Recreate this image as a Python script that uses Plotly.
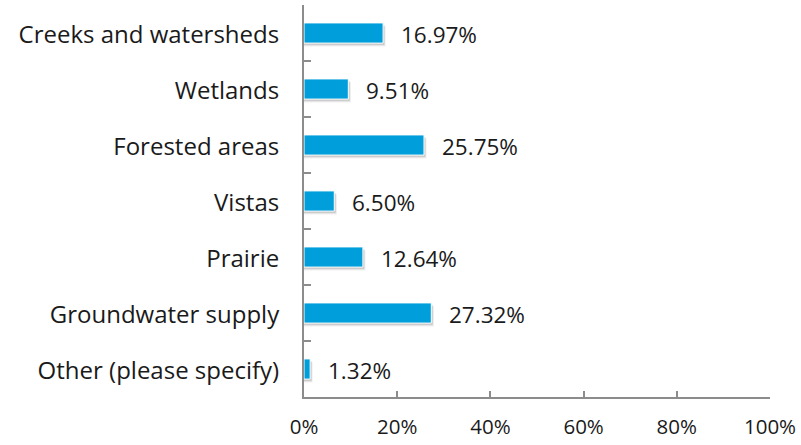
import plotly.graph_objects as go

# Survey responses: share of respondents per natural feature
categories = [
    "Creeks and watersheds",
    "Wetlands",
    "Forested areas",
    "Vistas",
    "Prairie",
    "Groundwater supply",
    "Other (please specify)",
]
percentages = [16.97, 9.51, 25.75, 6.50, 12.64, 27.32, 1.32]
tick_values = [0, 20, 40, 60, 80, 100]
tick_labels = ["0%", "20%", "40%", "60%", "80%", "100%"]

BAR_COLOR = "#009FDB"
AXIS_COLOR = "#8C8C8C"
TEXT_COLOR = "#1A1A1A"
FONT = "Open Sans"
BAR_WIDTH = 0.36

fig = go.Figure()

# soft drop shadow under each bar (a few translucent layers)
for i, alpha in enumerate([0.06, 0.08, 0.10]):
    shift = 0.55 - i * 0.15
    fig.add_trace(go.Bar(
        y=categories,
        x=[v + shift for v in percentages],
        orientation="h",
        width=BAR_WIDTH,
        offset=-BAR_WIDTH / 2 + 0.06 - i * 0.015,
        marker=dict(color=f"rgba(0,0,0,{alpha})", line=dict(width=0)),
        hoverinfo="skip",
        showlegend=False,
    ))

fig.add_trace(go.Bar(
    y=categories,
    x=percentages,
    orientation="h",
    width=BAR_WIDTH,
    offset=-BAR_WIDTH / 2,
    marker=dict(color=BAR_COLOR, line=dict(color="white", width=1)),
    showlegend=False,
))

for cat, val in zip(categories, percentages):
    fig.add_annotation(
        x=val, y=cat, text=f"{val:.2f}%",
        xanchor="left", yanchor="middle", xshift=16, yshift=-1,
        showarrow=False,
        font=dict(family=FONT, size=22.5, color=TEXT_COLOR),
    )

fig.update_layout(
    width=801, height=445,
    margin=dict(l=304, r=29, t=5, b=43),
    paper_bgcolor="white", plot_bgcolor="white",
    barmode="overlay",
    font=dict(family=FONT, size=22, color=TEXT_COLOR),
)
fig.update_xaxes(
    range=[0, 100],
    tickvals=tick_values, ticktext=tick_labels,
    showgrid=False, zeroline=False,
    showline=True, linecolor=AXIS_COLOR, linewidth=2,
    ticks="inside", ticklen=6, tickcolor=AXIS_COLOR, tickwidth=1.5,
    ticklabelstandoff=10,
    tickfont=dict(family=FONT, size=20.5, color=TEXT_COLOR),
)
fig.update_yaxes(
    categoryorder="array", categoryarray=categories,
    autorange="reversed",
    tickson="boundaries",
    showgrid=False, zeroline=False,
    showline=True, linecolor=AXIS_COLOR, linewidth=2,
    ticks="inside", ticklen=7, tickcolor=AXIS_COLOR, tickwidth=1.5,
    ticklabelstandoff=18, ticklabelshift=-2,
    tickfont=dict(family=FONT, size=24, color=TEXT_COLOR),
)

fig.write_html("out.html")
